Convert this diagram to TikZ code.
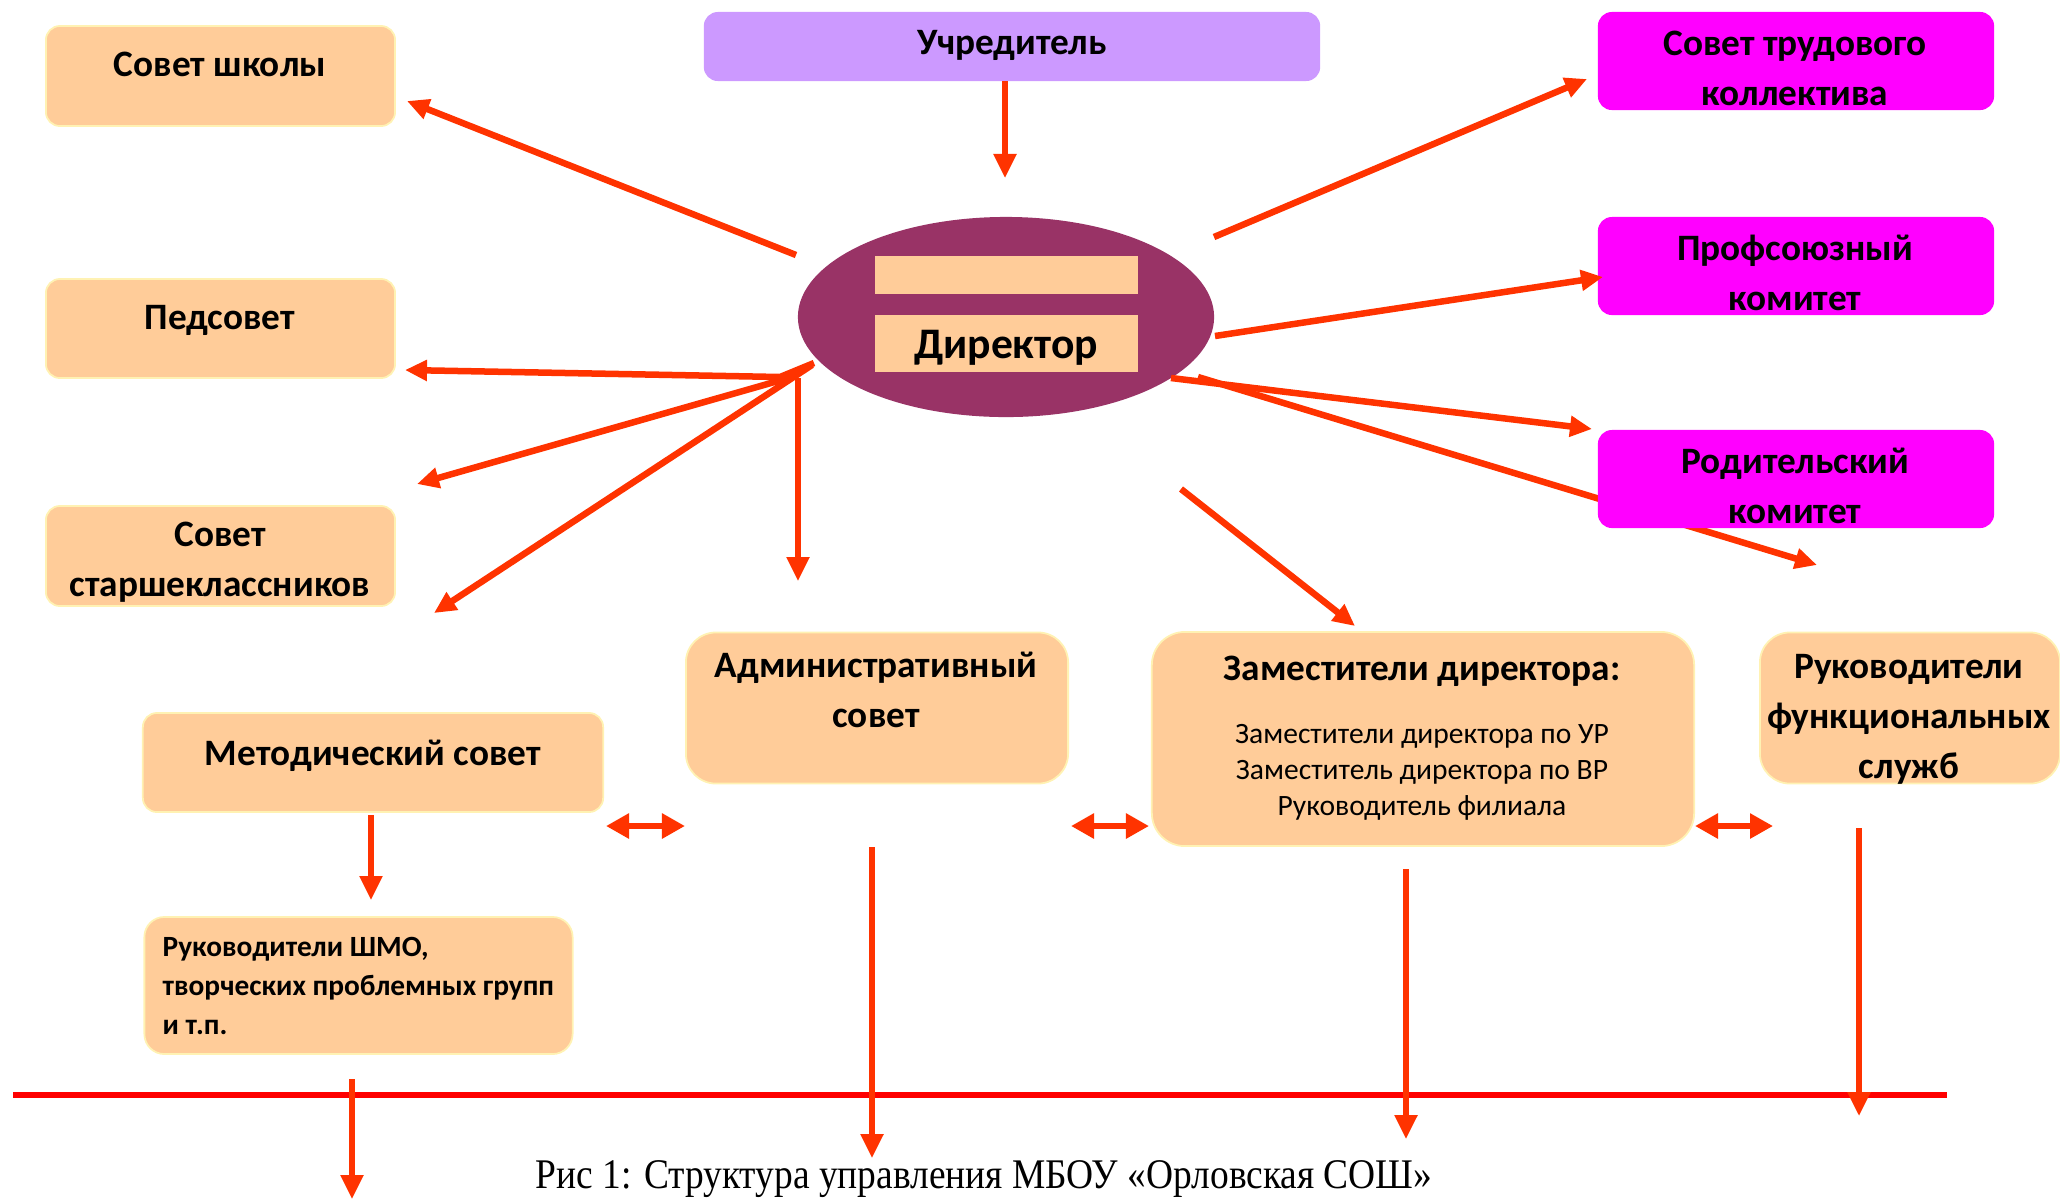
\documentclass[tikz,border=0pt]{standalone}
\usepackage{fontspec}
\setmainfont{Carlito}
\newfontfamily\capfont{Liberation Serif}
\usetikzlibrary{arrows.meta,shapes.geometric}
\definecolor{peach}{HTML}{FFCC99}
\definecolor{lilac}{HTML}{CC99FF}
\definecolor{mag}{HTML}{FF00FF}
\definecolor{plum}{HTML}{993366}
\definecolor{arr}{HTML}{FF3300}
\definecolor{edgey}{HTML}{FFF2B3}
\begin{document}
\begin{tikzpicture}[x=0.01cm,y=-0.01cm,
 box/.style={rectangle, rounded corners=0.14cm, fill=peach, draw=edgey, line width=0.5pt, inner sep=0pt},
 mbox/.style={rectangle, rounded corners=0.14cm, fill=mag, inner sep=0pt},
 lbl/.style={font=\bfseries\fontsize{10.6}{14.2}\selectfont, align=center, inner sep=0pt},
 sm/.style={font=\fontsize{8.4}{10.2}\selectfont, align=center, inner sep=0pt},
 arw/.style={draw=arr, line width=0.065cm, -{Triangle[length=0.22cm,width=0.2cm]}},
 varw/.style={draw=arr, line width=0.055cm, -{Triangle[length=0.24cm,width=0.22cm]}},
 darw/.style={draw=arr, line width=0.06cm, {Triangle[length=0.23cm,width=0.24cm]}-{Triangle[length=0.23cm,width=0.24cm]}}]
\useasboundingbox (0,0) rectangle (2060,1199);

% line passing behind the parents' committee box
\coordinate (p1) at (1198,377);
\coordinate (p2) at (1817,565);
\draw[arw] (p1) -- (p2);

% boxes
\node[box, minimum width=3.49cm, minimum height=1.0cm] (sch) at (220.5,76) {};
\node[box, minimum width=3.49cm, minimum height=0.99cm] (ped) at (220.5,328.5) {};
\node[box, minimum width=3.49cm, minimum height=1.0cm] (stk) at (220.5,556) {};
\node[rectangle, rounded corners=0.14cm, fill=lilac, inner sep=0pt, minimum width=6.16cm, minimum height=0.69cm] (uch) at (1012,46.5) {};
\node[mbox, minimum width=3.96cm, minimum height=0.98cm] (trd) at (1796,61) {};
\node[mbox, minimum width=3.96cm, minimum height=0.98cm] (prf) at (1796,266) {};
\node[mbox, minimum width=3.96cm, minimum height=0.98cm] (rod) at (1796,479) {};
\node[box, rounded corners=0.3cm, minimum width=3.82cm, minimum height=1.51cm] (adm) at (877,708) {};
\node[box, rounded corners=0.33cm, minimum width=5.42cm, minimum height=2.14cm] (zam) at (1423,739) {};
\node[box, rounded corners=0.3cm, minimum width=3.0cm, minimum height=1.51cm] (ruk) at (1910,708) {};
\node[box, minimum width=4.6cm, minimum height=0.99cm] (met) at (373,762.5) {};
\node[box, rounded corners=0.2cm, minimum width=4.28cm, minimum height=1.37cm] (shm) at (358.5,985.5) {};

% director ellipse
\node[ellipse, fill=plum, inner sep=0pt, minimum width=4.16cm, minimum height=2.0cm] (dir) at (1006,317) {};
\node[rectangle, fill=peach, inner sep=0pt, minimum width=2.63cm, minimum height=0.38cm] (dtop) at (1006.5,275) {};
\node[rectangle, fill=peach, inner sep=0pt, minimum width=2.63cm, minimum height=0.57cm] (dbot) at (1006.5,343.5) {};

% texts
\node[lbl] (schT) at (220,64) {Совет школы};
\node[lbl] (pedT) at (220,320) {Педсовет};
\node[lbl] (stkT) at (220,562) {Совет\\старшеклассников};
\node[lbl] (uchT) at (1012,45) {Учредитель};
\node[lbl] (trdT) at (1795,68) {Совет трудового\\коллектива};
\node[lbl] (prfT) at (1795,273) {Профсоюзный\\комитет};
\node[lbl] (rodT) at (1795,486) {Родительский\\комитет};
\node[font=\bfseries\fontsize{12.4}{14}\selectfont, inner sep=0pt] (dirT) at (1006,348) {Директор};
\node[lbl] (admT) at (876,690) {Административный\\совет};
\node[lbl] (zamT) at (1422,671) {Заместители директора:};
\node[sm] (zamS) at (1422,772) {Заместители директора по УР\\Заместитель директора по ВР\\Руководитель филиала};
\node[lbl] (rukT) at (1909,719) {Руководители\\функциональных\\служб};
\node[lbl] (metT) at (373,756) {Методический совет};
\node[font=\bfseries\fontsize{8.35}{11.2}\selectfont, align=left, inner sep=0pt, anchor=west] (shmT) at (162,986) {Руководители ШМО,\\творческих проблемных групп\\и т.п.};

% horizontal red line
\coordinate (h1) at (13,1095);
\coordinate (h2) at (1947,1095);
\draw[draw=red, line width=0.06cm] (h1) -- (h2);

% caption
\node[font=\capfont\fontsize{12}{14}\selectfont, inner sep=0pt, xscale=0.887] (cap) at (984,1179) {Рис 1: Структура управления МБОУ «Орловская СОШ»};

% arrows
\coordinate (u1) at (1005,81);   \coordinate (u2) at (1005,178);
\draw[varw] (u1) -- (u2);
\coordinate (s1) at (796,255);   \coordinate (s2) at (407,101);
\draw[arw] (s1) -- (s2);
\coordinate (e1) at (814,363);   \coordinate (e2) at (780,377); \coordinate (e3) at (405,370);
\draw[arw] (e1) -- (e2) -- (e3);
\coordinate (m1) at (792,377);   \coordinate (m2) at (417,484);
\draw[arw] (m1) -- (m2);
\coordinate (k1) at (812,365);   \coordinate (k2) at (434,613);
\draw[arw] (k1) -- (k2);
\coordinate (v1) at (798,378);   \coordinate (v2) at (798,581);
\draw[varw] (v1) -- (v2);
\coordinate (t1) at (1214,237);  \coordinate (t2) at (1587,79);
\draw[arw] (t1) -- (t2);
\coordinate (f1) at (1215,336);  \coordinate (f2) at (1603,277);
\draw[arw] (f1) -- (f2);
\coordinate (r1) at (1171,378);  \coordinate (r2) at (1592,429);
\draw[arw] (r1) -- (r2);
\coordinate (z1) at (1181,489);  \coordinate (z2) at (1355,626);
\draw[arw] (z1) -- (z2);

% double arrows
\coordinate (d1a) at (606,826);  \coordinate (d1b) at (685,826);
\draw[darw] (d1a) -- (d1b);
\coordinate (d2a) at (1071,826); \coordinate (d2b) at (1149,826);
\draw[darw] (d2a) -- (d2b);
\coordinate (d3a) at (1695,826); \coordinate (d3b) at (1773,826);
\draw[darw] (d3a) -- (d3b);

% vertical arrows down
\coordinate (ms1) at (371,815);  \coordinate (ms2) at (371,900);
\draw[varw] (ms1) -- (ms2);
\coordinate (w1) at (352,1079);  \coordinate (w2) at (352,1199);
\draw[varw] (w1) -- (w2);
\coordinate (a1) at (872,847);   \coordinate (a2) at (872,1158);
\draw[varw] (a1) -- (a2);
\coordinate (q1) at (1406,869);  \coordinate (q2) at (1406,1139);
\draw[varw] (q1) -- (q2);
\coordinate (g1) at (1859,828);  \coordinate (g2) at (1859,1116);
\draw[varw] (g1) -- (g2);
\end{tikzpicture}
\end{document}
